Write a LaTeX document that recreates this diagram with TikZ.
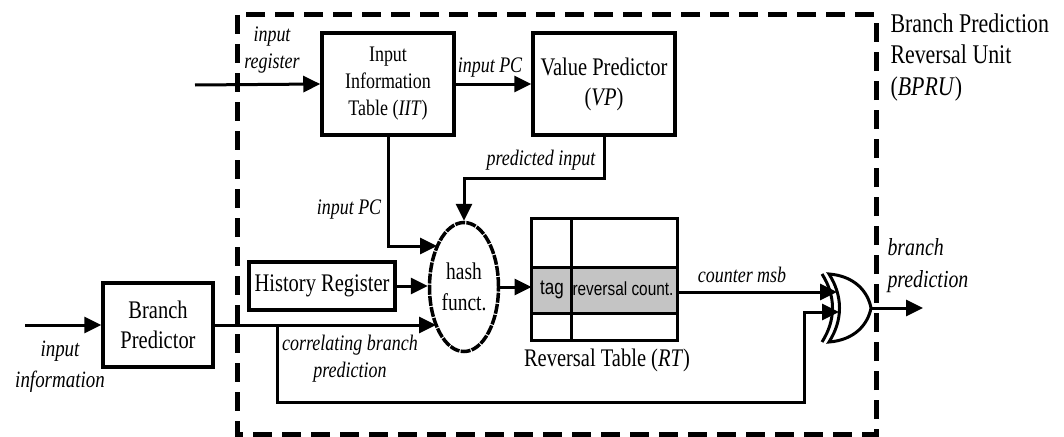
\documentclass[tikz,border=0pt]{standalone}
\usepackage{fontspec}
\setmainfont{Liberation Serif}[FakeStretch=0.81]
\newfontfamily\arialfont{Liberation Sans}[FakeStretch=0.81]
\usetikzlibrary{arrows.meta,shapes.geometric}
\definecolor{rowgray}{HTML}{C4C4C4}

\begin{document}
\begin{tikzpicture}[x=1pt,y=-1pt,
  line width=3pt,
  arr/.style={-{Triangle[length=17pt,width=16pt]}},
  blk/.style={draw,line width=3.5pt,inner sep=0pt,align=center,
    font=\fontsize{25.3}{30}\selectfont},
  lbl/.style={font=\fontsize{22.2}{27}\selectfont\itshape,align=center,inner sep=0pt},
  plain/.style={font=\fontsize{25.3}{30}\selectfont,align=center,inner sep=0pt},
]
\useasboundingbox (0,0) rectangle (1064,436);

% dashed outline of the reversal unit
\draw[line width=5pt,dash pattern=on 19pt off 10pt] (237,15) rectangle (876,434);
\node[plain,align=left,anchor=north west,font=\fontsize{27}{31.5}\selectfont]
  (bpru) at (889,12) {Branch Prediction\\Reversal Unit\\(\textit{BPRU})};

% blocks
\node[blk,minimum width=132,minimum height=102,font=\fontsize{22.2}{27}\selectfont]
  (iit) at (388,84) {Input\\Information\\Table (\textit{IIT})};
\node[blk,minimum width=142,minimum height=102] (vp) at (604,84)
  {Value Predictor\\(\textit{VP})};
\node[blk,minimum width=146,minimum height=48] (hist) at (322,286) {History Register};
\node[blk,minimum width=110,minimum height=84] (bp) at (158,325) {Branch\\Predictor};
\node[draw,ellipse,line width=3.5pt,dash pattern=on 10pt off 1.2pt,
  minimum width=69,minimum height=129,inner sep=0pt,align=center,
  font=\fontsize{24}{31}\selectfont] (hash) at (464,287) {hash\\funct.};

% reversal table
\node[minimum width=143,minimum height=119,inner sep=0pt] (rt) at (604.5,279.5) {};
\fill[rowgray] (533,267) rectangle (676,313);
\draw[line width=3.5pt] (rt.north west) rectangle (rt.south east);
\draw[line width=3pt] (571,220) -- (571,339);
\draw[line width=3pt] (533,267) -- (676,267) (533,313) -- (676,313);
\node[inner sep=0pt,font=\arialfont\fontsize{21}{24}\selectfont] (tag) at (552,290) {tag};
\node[inner sep=0pt,font=\arialfont\fontsize{19}{24}\selectfont] (cnt) at (623,289) {reversal count.};
\node[plain] (rtl) at (607,360) {Reversal Table (\textit{RT})};

% xor gate
\coordinate (xin1) at (837,292);
\coordinate (xin2) at (839,312);
\coordinate (xout) at (871,308);
\draw[line width=3pt] (829,274) .. controls (843,296) and (843,320) .. (829,342)
  .. controls (855,340) and (868,324) .. (xout)
  .. controls (868,292) and (855,276) .. (829,274) -- cycle;
\draw[line width=3pt] (822,274) .. controls (836,296) and (836,320) .. (822,342);

% free ends and bends
\coordinate (inreg) at (195,85);
\coordinate (ininfo) at (25,325);
\coordinate (bpout) at (923,308);
\coordinate (vpb) at (604,178);
\coordinate (h1) at (437,246);
\coordinate (h3) at (436,325);
\coordinate (tap) at (277,325);
\coordinate (bend) at (804,402);

% connectors
\draw[arr] (inreg) -- (iit.west);
\draw[arr] (iit.east) -- (vp.west);
\draw[arr] (iit.south) |- (h1);
\draw[arr] (vp.south) -- (vpb) -| (hash.north);
\draw[arr] (hist.east) -- (hist.east -| hash.west);
\draw[arr] (ininfo) -- (bp.west);
\draw[arr] (bp.east) -- (h3);
\draw[arr] (tap) |- (bend) |- (xin2);
\draw[arr] (hash.east) -- (hash.east -| rt.west);
\draw[arr] (rt.east |- xin1) -- (xin1);
\draw[arr] (xout) -- (bpout);

% connector labels
\node[lbl] (l1) at (272,50) {input\\register};
\node[lbl] (l2) at (490,68) {input PC};
\node[lbl] (l3) at (541,160) {predicted input};
\node[lbl] (l4) at (349,210) {input PC};
\node[lbl] (l5) at (350,359) {correlating branch\\prediction};
\node[lbl] (l6) at (742,275) {counter msb};
\node[lbl,align=left,anchor=west,font=\fontsize{24.5}{32}\selectfont\itshape] (l7) at (886,266) {branch\\prediction};
\node[lbl,font=\fontsize{23.4}{31}\selectfont\itshape] (l8) at (60,367) {input\\information};
\end{tikzpicture}
\end{document}
